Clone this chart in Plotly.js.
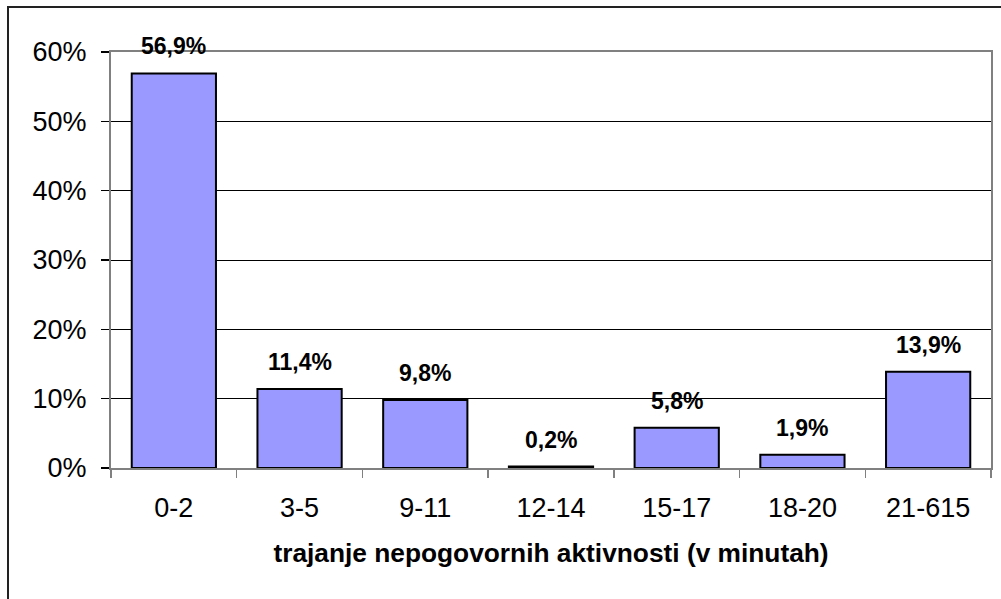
<!DOCTYPE html>
<html>
<head>
<meta charset="utf-8">
<script src="https://cdn.plot.ly/plotly-3.0.1.min.js"></script>
<style>
html,body{margin:0;padding:0;background:#fff;}
#chart{width:1001px;height:599px;}
</style>
</head>
<body>
<div id="chart"></div>
<script>
var categories = ["0-2", "3-5", "9-11", "12-14", "15-17", "18-20", "21-615"];
var values = [56.9, 11.4, 9.8, 0.2, 5.8, 1.9, 13.9];
var yTickValues = [0, 10, 20, 30, 40, 50, 60];
var yTickLabels = ["0%", "10%", "20%", "30%", "40%", "50%", "60%"];
var xTitle = "trajanje nepogovornih aktivnosti (v minutah)";

var font = "Liberation Sans, Arial, sans-serif";

var labels = values.map(function (v) { return v.toFixed(1).replace(".", ",") + "%"; });

var annotations = categories.map(function (c, i) {
  return {
    x: c, y: values[i], xref: "x", yref: "y",
    text: "<b>" + labels[i] + "</b>",
    showarrow: false, yanchor: "bottom", yshift: 12,
    font: {family: font, size: 23, color: "#000"}
  };
});

var trace = {
  type: "bar",
  x: categories,
  y: values,
  width: 0.67,
  marker: {color: "#9999FF", line: {color: "#000", width: 2}},
  hoverinfo: "x+y"
};

var layout = {
  width: 1001, height: 599,
  margin: {l: 111, r: 10, t: 52, b: 131},
  paper_bgcolor: "#fff", plot_bgcolor: "#fff",
  showlegend: false,
  font: {family: font, color: "#000"},
  xaxis: {
    type: "category",
    tickson: "boundaries",
    ticks: "outside", ticklen: 8, tickwidth: 1.5, tickcolor: "#808080",
    showline: true, linecolor: "#808080", linewidth: 2, mirror: true,
    showgrid: false,
    ticklabelstandoff: 15,
    tickfont: {family: font, size: 27, color: "#000"},
    title: {text: "<b>" + xTitle + "</b>", standoff: 21, font: {family: font, size: 26.3, color: "#000"}}
  },
  yaxis: {
    range: [0, 60],
    tickvals: yTickValues, ticktext: yTickLabels,
    ticks: "outside", ticklen: 8, tickwidth: 1.5, tickcolor: "#000",
    showline: true, linecolor: "#808080", linewidth: 2, mirror: true,
    showgrid: true, gridcolor: "#000", gridwidth: 1,
    zeroline: false,
    ticklabelstandoff: 9,
    tickfont: {family: font, size: 27, color: "#000"}
  },
  annotations: annotations,
  shapes: [{
    type: "rect", xref: "paper", yref: "paper",
    x0: (8 - 111) / 880, x1: 1.3,
    y0: -0.5, y1: (468 - 7) / 416,
    line: {color: "#222", width: 2},
    layer: "below"
  }]
};

Plotly.newPlot("chart", [trace], layout, {displayModeBar: false, staticPlot: true});
</script>
</body>
</html>
